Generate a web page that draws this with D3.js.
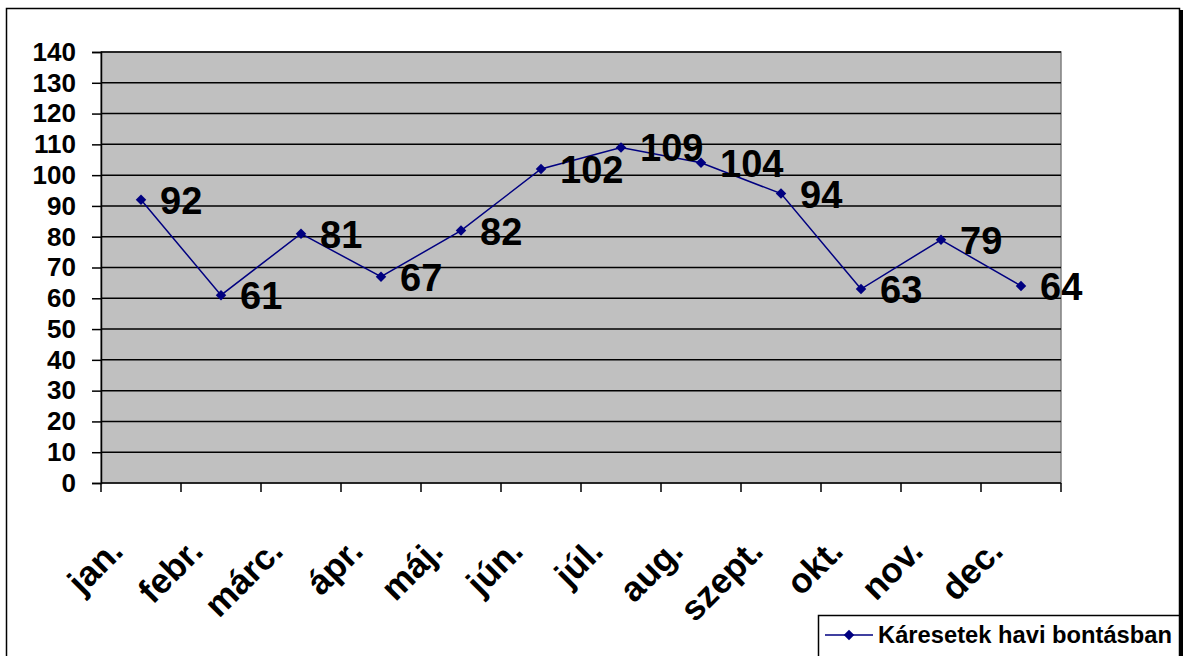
<!DOCTYPE html>
<html>
<head>
<meta charset="utf-8">
<script src="https://cdn.jsdelivr.net/npm/d3@7"></script>
<style>
  body { margin: 0; background: #fff; }
  text { font-family: "Liberation Sans", Arial, sans-serif; font-weight: bold; }
</style>
</head>
<body>
<div id="chart"></div>
<script>
// Chart data
var months = ["jan.", "febr.", "márc.", "ápr.", "máj.", "jún.", "júl.", "aug.", "szept.", "okt.", "nov.", "dec."];
var values = [92, 61, 81, 67, 82, 102, 109, 104, 94, 63, 79, 64];
var yTicks = [0, 10, 20, 30, 40, 50, 60, 70, 80, 90, 100, 110, 120, 130, 140];
var seriesName = "Káresetek havi bontásban";

var width = 1184,
    height = 656;

var svg = d3.select("#chart")
    .append("svg")
    .attr("width", width)
    .attr("height", height);

// Outer frame with shadow on the right
svg.append("rect")
    .attr("x", 1179).attr("y", 10)
    .attr("width", 4).attr("height", 660)
    .style("fill", "#000");
svg.append("rect")
    .attr("x", 6.5).attr("y", 8.5)
    .attr("width", 1173).attr("height", 660)
    .style("fill", "#fff")
    .style("stroke", "#000")
    .style("stroke-width", 1.5);

// Plot area
var plotLeft = 101, plotRight = 1061, plotTop = 52, plotBottom = 483;

var x = d3.scaleBand()
    .domain(months)
    .range([plotLeft, plotRight]);

var y = d3.scaleLinear()
    .domain([0, 140])
    .range([plotBottom, plotTop]);

svg.append("rect")
    .attr("x", plotLeft).attr("y", plotTop)
    .attr("width", plotRight - plotLeft).attr("height", plotBottom - plotTop)
    .style("fill", "#c0c0c0")
    .style("stroke", "#808080")
    .style("stroke-width", 1.5);

// Gridlines
svg.selectAll(".grid")
    .data(yTicks.filter(d => d > 0))
    .enter()
    .append("line")
    .attr("class", "grid")
    .attr("x1", plotLeft).attr("x2", plotRight)
    .attr("y1", d => y(d)).attr("y2", d => y(d))
    .style("stroke", "#000")
    .style("stroke-width", 1.5);

// Y axis
var yAxis = svg.append("g")
    .attr("transform", "translate(" + plotLeft + ",0)")
    .call(d3.axisLeft(y).tickValues(yTicks).tickSize(9).tickPadding(16));
yAxis.select(".domain").style("stroke", "#000").style("stroke-width", 1.5);
yAxis.selectAll("line").style("stroke", "#000").style("stroke-width", 1.5);
yAxis.selectAll("text")
    .style("font-size", "26px")
    .style("font-family", "Liberation Sans, Arial, sans-serif")
    .style("font-weight", "bold")
    .attr("fill", "#000");

// X axis: ticks on band boundaries
var xAxis = svg.append("g")
    .attr("transform", "translate(0," + plotBottom + ")");
xAxis.append("line")
    .attr("x1", plotLeft).attr("x2", plotRight)
    .style("stroke", "#000").style("stroke-width", 1.5);
xAxis.selectAll(".xtick")
    .data(d3.range(months.length + 1))
    .enter()
    .append("line")
    .attr("class", "xtick")
    .attr("x1", i => plotLeft + i * x.step())
    .attr("x2", i => plotLeft + i * x.step())
    .attr("y1", 0).attr("y2", 9)
    .style("stroke", "#000").style("stroke-width", 1.5);

xAxis.selectAll(".xlabel")
    .data(months)
    .enter()
    .append("text")
    .attr("class", "xlabel")
    .attr("transform", d => "translate(" + (x(d) + x.bandwidth() / 2 - 16) + ",70) rotate(-45)")
    .attr("text-anchor", "end")
    .style("font-size", "35px")
    .text(d => d);

// Line and markers
var line = d3.line()
    .x((d, i) => x(months[i]) + x.bandwidth() / 2)
    .y(d => y(d));

svg.append("path")
    .datum(values)
    .attr("d", line)
    .style("fill", "none")
    .style("stroke", "#000080")
    .style("stroke-width", 1.5);

svg.selectAll(".marker")
    .data(values)
    .enter()
    .append("path")
    .attr("class", "marker")
    .attr("d", d3.symbol().type(d3.symbolDiamond2).size(70))
    .attr("transform", (d, i) => "translate(" + (x(months[i]) + x.bandwidth() / 2) + "," + y(d) + ")")
    .style("fill", "#000080");

// Data labels
svg.selectAll(".vlabel")
    .data(values)
    .enter()
    .append("text")
    .attr("class", "vlabel")
    .attr("x", (d, i) => x(months[i]) + x.bandwidth() / 2 + 19)
    .attr("y", d => y(d) + 14)
    .style("font-size", "38px")
    .text(d => d);

// Legend
var legend = svg.append("g");
legend.append("rect")
    .attr("x", 818.5).attr("y", 615.5)
    .attr("width", 361).attr("height", 42)
    .style("fill", "#fff")
    .style("stroke", "#000")
    .style("stroke-width", 1.5);
legend.append("line")
    .attr("x1", 825).attr("x2", 873)
    .attr("y1", 635).attr("y2", 635)
    .style("stroke", "#000080").style("stroke-width", 1.5);
legend.append("path")
    .attr("d", d3.symbol().type(d3.symbolDiamond2).size(70))
    .attr("transform", "translate(849,635)")
    .style("fill", "#000080");
legend.append("text")
    .attr("x", 878).attr("y", 643)
    .attr("textLength", 294)
    .attr("lengthAdjust", "spacingAndGlyphs")
    .style("font-size", "23px")
    .text(seriesName);
</script>
</body>
</html>
